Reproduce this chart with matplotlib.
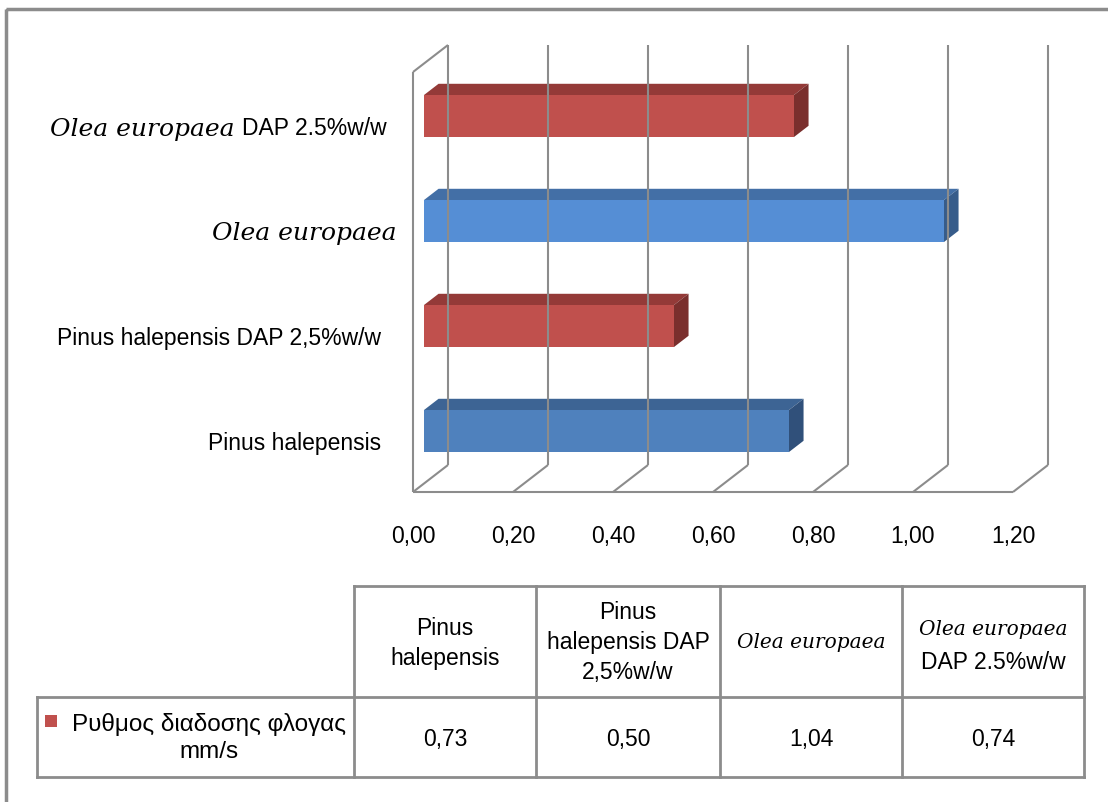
import matplotlib
matplotlib.use("Agg")
import matplotlib.pyplot as plt
from matplotlib.patches import Polygon, Rectangle

# ρυθμος διαδοσης φλογας (mm/s)
species = ["Pinus halepensis", "Pinus halepensis DAP 2,5%w/w", "Olea europaea", "Olea europaea DAP 2.5%w/w"]
rates = [0.73, 0.50, 1.04, 0.74]
series_name = "Ρυθμος διαδοσης φλογας\nmm/s"
ticks = [0.0, 0.2, 0.4, 0.6, 0.8, 1.0, 1.2]

face = ["#4f81bd", "#c0504d", "#558ed5", "#c0504d"]
top = ["#3d6494", "#943a38", "#436fa6", "#943a38"]
side = ["#30507a", "#7a2f2d", "#375c8a", "#7a2f2d"]

sans = "Liberation Sans"
serif = "DejaVu Serif"
FS = 16.5

W, H = 1108, 803
fig = plt.figure(figsize=(W / 100, H / 100), dpi=100)

# frame around everything
frame = fig.add_axes([0, 0, 1, 1])
frame.set_xlim(0, W)
frame.set_ylim(H, 0)
frame.axis("off")
frame.add_patch(Rectangle((6, 10), W + 20, H + 20, fill=False, ec="#8c8c8c", lw=2.5))

# plot area, x in value units, y in category units (front plane)
px_x, px_y = 500.0, 105.0
x0_px, y0_px = 413, 493
left_px, right_px, top_px, bot_px = 405, 1065, 40, 500
ax = fig.add_axes([left_px / W, (H - bot_px) / H, (right_px - left_px) / W, (bot_px - top_px) / H])
ax.set_xlim((left_px - x0_px) / px_x, (right_px - x0_px) / px_x)
ax.set_ylim(-0.5 - (bot_px - y0_px) / px_y, -0.5 + (y0_px - top_px) / px_y)
ax.axis("off")

DX, DY = 35 / px_x, 27 / px_y  # depth of the wall
grid = dict(color="#8c8c8c", lw=1.5, solid_capstyle="butt")
lo, hi = -0.5, 3.5

# back wall gridlines and floor lines
for v in ticks:
    ax.plot([v + DX, v + DX], [lo + DY, hi + DY], **grid)
    ax.plot([v, v + DX], [lo, lo + DY], **grid)
# side wall and front floor edge
ax.plot([0, 0], [lo, hi], **grid)
ax.plot([0, DX], [hi, hi + DY], **grid)
ax.plot([0, ticks[-1]], [lo, lo], **grid)

# 3d bars
d0, dd, hh = 0.31, 0.42, 0.2
for i, v in enumerate(rates):
    xa, xb = d0 * DX, v + d0 * DX
    yb, yt = i - hh + d0 * DY, i + hh + d0 * DY
    ox, oy = dd * DX, dd * DY
    ax.add_patch(Polygon([(xa, yt), (xb, yt), (xb + ox, yt + oy), (xa + ox, yt + oy)], closed=True, fc=top[i], ec="none"))
    ax.add_patch(Polygon([(xb, yb), (xb + ox, yb + oy), (xb + ox, yt + oy), (xb, yt)], closed=True, fc=side[i], ec="none"))
    ax.add_patch(Rectangle((xa, yb), v, yt - yb, fc=face[i], ec="none"))

# tick labels
for v in ticks:
    ax.text(v, lo - 44 / px_y, f"{v:.2f}".replace(".", ","), ha="center", va="center",
            fontsize=FS, family=sans)

# category labels
lab_x = -32 / px_x
ax.text(lab_x, 0 - 0.03, species[0], ha="right", va="center", fontsize=FS, family=sans)
ax.text(lab_x, 1 - 0.03, species[1], ha="right", va="center", fontsize=FS, family=sans)
ax.text(-16 / px_x, 2 - 0.03, "Olea europaea", ha="right", va="center", fontsize=18,
        family=serif, style="italic")
t = ax.text(-26 / px_x, 3 - 0.03, "DAP 2.5%w/w", ha="right", va="center", fontsize=FS, family=sans)
ax.annotate("Olea europaea ", xy=(0, 0.45), xycoords=t, ha="right", va="center",
            fontsize=18, family=serif, style="italic")

# data table
tb = fig.add_axes([0, 0, 1, 1])
tb.set_xlim(0, W)
tb.set_ylim(H, 0)
tb.axis("off")
cols = [354, 536, 720, 902, 1084]
row_top, row_mid, row_bot = 587, 698, 778
tl = dict(color="#8c8c8c", lw=2)
tb.plot([cols[0], cols[-1]], [row_top, row_top], **tl)
tb.plot([37, cols[-1]], [row_mid, row_mid], **tl)
tb.plot([37, cols[-1]], [row_bot, row_bot], **tl)
tb.plot([37, 37], [row_mid, row_bot], **tl)
for c in cols:
    tb.plot([c, c], [row_top, row_bot], **tl)

head_mid = (row_top + row_mid) / 2
val_mid = (row_mid + row_bot) / 2
cx = [(cols[k] + cols[k + 1]) / 2 for k in range(4)]
tb.text(cx[0], head_mid + 1, "Pinus\nhalepensis", ha="center", va="center", fontsize=FS,
        family=sans, linespacing=1.4)
tb.text(cx[1], head_mid, "Pinus\nhalepensis DAP\n2,5%w/w", ha="center", va="center",
        fontsize=FS, family=sans, linespacing=1.4)
tb.text(cx[2], head_mid, "Olea europaea", ha="center", va="center", fontsize=14.5,
        family=serif, style="italic")
tb.text(cx[3], head_mid - 13, "Olea europaea", ha="center", va="center", fontsize=14.5,
        family=serif, style="italic")
tb.text(cx[3], head_mid + 20, "DAP 2.5%w/w", ha="center", va="center", fontsize=FS, family=sans)

for k, v in enumerate(rates):
    tb.text(cx[k], val_mid + 2, f"{v:.2f}".replace(".", ","), ha="center", va="center",
            fontsize=FS, family=sans)

tb.add_patch(Rectangle((45, 716), 12, 12, fc=face[1], ec="none"))
tb.text(209, val_mid, series_name, ha="center", va="center", fontsize=17.5, family=sans,
        linespacing=1.3)

fig.savefig("out.png", dpi=100)
